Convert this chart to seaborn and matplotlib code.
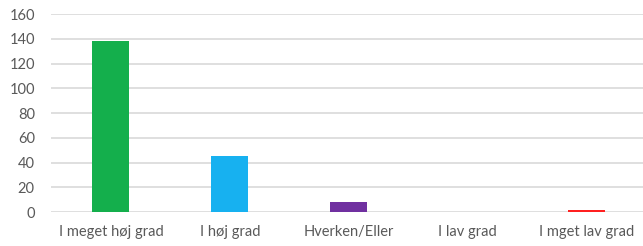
import matplotlib
matplotlib.use('Agg')
import matplotlib.pyplot as plt
import seaborn as sns
import pandas as pd

categories = ["I meget høj grad", "I høj grad", "Hverken/Eller", "I lav grad", "I mget lav grad"]
values = [138, 45, 8, 0, 2]
colors = ["#14AF4C", "#17B1F0", "#7030A0", "#A5A5A5", "#FF2020"]
y_ticks = [0, 20, 40, 60, 80, 100, 120, 140, 160]

df = pd.DataFrame({"kategori": categories, "antal": values})

sns.set_style("white")
plt.rcParams['font.family'] = ['Lato', 'DejaVu Sans']

fig = plt.figure(figsize=(6.43, 2.46), dpi=100)
ax = fig.add_axes([0.08, 0.138, 0.925, 0.805])

sns.barplot(data=df, x="kategori", y="antal", hue="kategori", palette=colors,
            legend=False, width=0.31, ax=ax, saturation=1,
            linewidth=0, edgecolor="none")

ax.set_ylim(0, 160)
ax.set_yticks(y_ticks)
ax.set_xlim(-0.5, 4.5)
ax.yaxis.grid(True, color="#D9D9D9", linewidth=1.2)
ax.set_axisbelow(True)
for s in ax.spines.values():
    s.set_visible(False)
ax.set_xlabel("")
ax.set_ylabel("")
ax.tick_params(axis='both', length=0, labelsize=10.5, colors="#595959")
ax.tick_params(axis='x', pad=9)
ax.tick_params(axis='y', pad=12)

plt.savefig("out.png", dpi=100)
plt.close(fig)
